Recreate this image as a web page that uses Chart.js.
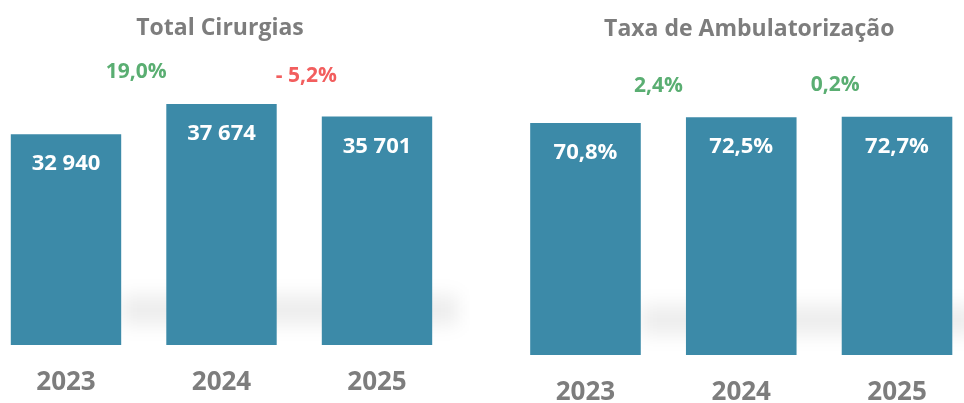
<!DOCTYPE html>
<html><head><meta charset="utf-8">
<script src="https://cdn.jsdelivr.net/npm/chart.js@4.4.1/dist/chart.umd.min.js"></script>
<style>
html,body{margin:0;padding:0;background:#fff;width:964px;height:403px;overflow:hidden;position:relative}
#c1{position:absolute;left:-20px;top:0}
#c2{position:absolute;left:480px;top:0}
</style></head><body>
<canvas id="c1" width="490" height="428"></canvas>
<canvas id="c2" width="500" height="446"></canvas>
<script>
// ---- data ----
const years = ['2023', '2024', '2025'];

const totalTitle = 'Total Cirurgias';
const totalCirurgias = [32940, 37674, 35701];
const totalLabels = ['32 940', '37 674', '35 701'];
const totalChange = ['19,0%', '- 5,2%'];
const totalChangeColors = ['#5aae72', '#f25e5e'];

const taxaTitle = 'Taxa de Ambulatorização';
const taxaAmbulatorizacao = [70.8, 72.5, 72.7];
const taxaLabels = ['70,8%', '72,5%', '72,7%'];
const taxaChange = ['2,4%', '0,2%'];
const taxaChangeColors = ['#5aae72', '#5aae72'];

const FONT = '"Open Sans", "Noto Sans", sans-serif';
const BAR = '#3c8aa8';
const GREY = '#7d7d7d';

const annot = {
  id: 'annot',
  beforeDatasetsDraw(chart, args, o) {
    const ctx = chart.ctx, meta = chart.getDatasetMeta(0), ca = chart.chartArea;
    const first = meta.data[0], last = meta.data[meta.data.length - 1];
    ctx.save();
    ctx.filter = 'blur(9px)';
    ctx.fillStyle = 'rgba(0,0,0,0.07)';
    ctx.fillRect(first.x + first.width / 2, ca.bottom - 50, (last.x + last.width / 2 + 25) - (first.x + first.width / 2), 30);
    ctx.restore();
  },
  afterDatasetsDraw(chart, args, o) {
    const ctx = chart.ctx, meta = chart.getDatasetMeta(0), ca = chart.chartArea;
    ctx.save();
    ctx.textAlign = 'center';
    ctx.textBaseline = 'alphabetic';
    ctx.font = 'bold 22px ' + FONT;
    ctx.fillStyle = '#ffffff';
    meta.data.forEach((bar, i) => ctx.fillText(o.values[i], bar.x, bar.y + 36));
    ctx.font = 'bold 21px ' + FONT;
    for (let i = 0; i < o.changes.length; i++) {
      const a = meta.data[i], b = meta.data[i + 1];
      ctx.fillStyle = o.changeColors[i];
      ctx.fillText(o.changes[i], (a.x + b.x) / 2 + o.changeDx[i], Math.min(a.y, b.y) + o.changeDy[i]);
    }
    ctx.font = 'bold 23px ' + FONT;
    ctx.fillStyle = GREY;
    ctx.fillText(o.title, (ca.left + ca.right) / 2 + o.titleDx, o.titleY);
    ctx.restore();
  }
};

function makeChart(id, values, max, pad, tickPad, annotOpts) {
  return new Chart(document.getElementById(id), {
    type: 'bar',
    data: {
      labels: years,
      datasets: [{ data: values, backgroundColor: BAR, borderWidth: 0, barPercentage: 0.71, categoryPercentage: 1 }]
    },
    options: {
      responsive: false,
      animation: false,
      events: [],
      layout: { padding: pad },
      plugins: { legend: { display: false }, tooltip: { enabled: false }, title: { display: false }, annot: annotOpts },
      scales: {
        x: {
          grid: { display: false, drawTicks: false },
          border: { display: false },
          ticks: { color: GREY, padding: tickPad, font: { family: FONT, size: 26, weight: 'bold', lineHeight: 1 } }
        },
        y: { display: false, min: 0, max: max }
      }
    },
    plugins: [annot]
  });
}

makeChart('c1', totalCirurgias, 44550, { left: 8.25, right: 15.25, top: 60, bottom: 7 }, 25, {
  values: totalLabels, changes: totalChange, changeColors: totalChangeColors,
  changeDx: [-7.5, 7], changeDy: [-26, -22], title: totalTitle, titleDx: -1.5, titleY: 35
});
makeChart('c2', taxaAmbulatorizacao, 90, { left: 27.6, right: 5.1, top: 60, bottom: 15 }, 25, {
  values: taxaLabels, changes: taxaChange, changeColors: taxaChangeColors,
  changeDx: [-5, 16], changeDy: [-25, -26], title: taxaTitle, titleDx: 8, titleY: 36
});
</script>
</body></html>
